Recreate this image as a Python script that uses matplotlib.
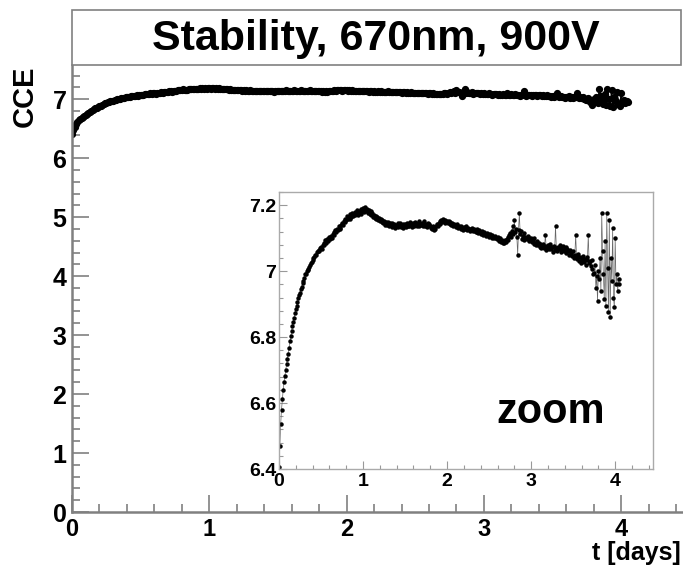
import matplotlib
matplotlib.use("Agg")
import matplotlib.pyplot as plt
from matplotlib.patches import Rectangle
from matplotlib.ticker import MultipleLocator

plt.rcParams["font.family"] = ["Liberation Sans", "DejaVu Sans"]
plt.rcParams["font.weight"] = "bold"

t_days = [
    0.00, 0.01, 0.02, 0.03, 0.04, 0.05, 0.06, 0.07, 0.08, 0.09,
    0.10, 0.11, 0.12, 0.13, 0.14, 0.15, 0.16, 0.17, 0.18, 0.19,
    0.20, 0.21, 0.22, 0.23, 0.24, 0.25, 0.26, 0.27, 0.28, 0.29,
    0.30, 0.31, 0.32, 0.33, 0.34, 0.35, 0.36, 0.37, 0.38, 0.39,
    0.40, 0.41, 0.42, 0.43, 0.44, 0.45, 0.46, 0.47, 0.48, 0.49,
    0.50, 0.51, 0.52, 0.53, 0.54, 0.55, 0.56, 0.57, 0.58, 0.59,
    0.60, 0.61, 0.62, 0.63, 0.64, 0.65, 0.66, 0.67, 0.68, 0.69,
    0.70, 0.71, 0.72, 0.73, 0.74, 0.75, 0.76, 0.77, 0.78, 0.79,
    0.80, 0.81, 0.82, 0.83, 0.84, 0.85, 0.86, 0.87, 0.88, 0.89,
    0.90, 0.91, 0.92, 0.93, 0.94, 0.95, 0.96, 0.97, 0.98, 0.99,
    1.00, 1.01, 1.02, 1.03, 1.04, 1.05, 1.06, 1.07, 1.08, 1.09,
    1.10, 1.11, 1.12, 1.13, 1.14, 1.15, 1.16, 1.17, 1.18, 1.19,
    1.20, 1.21, 1.22, 1.23, 1.24, 1.25, 1.26, 1.27, 1.28, 1.29,
    1.30, 1.31, 1.32, 1.33, 1.34, 1.35, 1.36, 1.37, 1.38, 1.39,
    1.40, 1.41, 1.42, 1.43, 1.44, 1.45, 1.46, 1.47, 1.48, 1.49,
    1.50, 1.51, 1.52, 1.53, 1.54, 1.55, 1.56, 1.57, 1.58, 1.59,
    1.60, 1.61, 1.62, 1.63, 1.64, 1.65, 1.66, 1.67, 1.68, 1.69,
    1.70, 1.71, 1.72, 1.73, 1.74, 1.75, 1.76, 1.77, 1.78, 1.79,
    1.80, 1.81, 1.82, 1.83, 1.84, 1.85, 1.86, 1.87, 1.88, 1.89,
    1.90, 1.91, 1.92, 1.93, 1.94, 1.95, 1.96, 1.97, 1.98, 1.99,
    2.00, 2.01, 2.02, 2.03, 2.04, 2.05, 2.06, 2.07, 2.08, 2.09,
    2.10, 2.11, 2.12, 2.13, 2.14, 2.15, 2.16, 2.17, 2.18, 2.19,
    2.20, 2.21, 2.22, 2.23, 2.24, 2.25, 2.26, 2.27, 2.28, 2.29,
    2.30, 2.31, 2.32, 2.33, 2.34, 2.35, 2.36, 2.37, 2.38, 2.39,
    2.40, 2.41, 2.42, 2.43, 2.44, 2.45, 2.46, 2.47, 2.48, 2.49,
    2.50, 2.51, 2.52, 2.53, 2.54, 2.55, 2.56, 2.57, 2.58, 2.59,
    2.60, 2.61, 2.62, 2.63, 2.64, 2.65, 2.66, 2.67, 2.68, 2.69,
    2.70, 2.71, 2.72, 2.73, 2.74, 2.75, 2.76, 2.77, 2.78, 2.79,
    2.80, 2.81, 2.82, 2.83, 2.84, 2.85, 2.86, 2.87, 2.88, 2.89,
    2.90, 2.91, 2.92, 2.93, 2.94, 2.95, 2.96, 2.97, 2.98, 2.99,
    3.00, 3.01, 3.02, 3.03, 3.04, 3.05, 3.06, 3.07, 3.08, 3.09,
    3.10, 3.11, 3.12, 3.13, 3.14, 3.15, 3.16, 3.17, 3.18, 3.19,
    3.20, 3.21, 3.22, 3.23, 3.24, 3.25, 3.26, 3.27, 3.28, 3.29,
    3.30, 3.31, 3.32, 3.33, 3.34, 3.35, 3.36, 3.37, 3.38, 3.39,
    3.40, 3.41, 3.42, 3.43, 3.44, 3.45, 3.46, 3.47, 3.48, 3.49,
    3.50, 3.51, 3.52, 3.53, 3.54, 3.55, 3.56, 3.57, 3.58, 3.59,
    3.60, 3.61, 3.62, 3.63, 3.64, 3.65, 3.66, 3.67, 3.68, 3.69,
    3.70, 3.71, 3.72, 3.73, 3.74,
    3.75, 3.76, 3.77, 3.78, 3.79, 3.80, 3.81, 3.82, 3.83, 3.84,
    3.85, 3.86, 3.87, 3.88, 3.89, 3.90, 3.91, 3.92, 3.93, 3.94,
    3.95, 3.96, 3.97, 3.98, 3.99, 4.00, 4.01, 4.02, 4.03, 4.04, 4.05,
]
cce = [
    6.405, 6.47, 6.535, 6.58, 6.612, 6.64, 6.663, 6.682, 6.70, 6.717,
    6.733, 6.75, 6.768, 6.787, 6.803, 6.82, 6.834, 6.846, 6.858, 6.872,
    6.884, 6.893, 6.905, 6.918, 6.928, 6.935, 6.947, 6.952, 6.963, 6.97,
    6.978, 6.99, 6.992, 6.999, 7.006, 7.002, 7.013, 7.02, 7.024, 7.029,
    7.033, 7.04, 7.043, 7.05, 7.048, 7.057, 7.06, 7.064, 7.061, 7.07,
    7.072, 7.068, 7.079, 7.086, 7.08, 7.093, 7.085, 7.097, 7.09, 7.099,
    7.103, 7.096, 7.108, 7.101, 7.113, 7.12, 7.109, 7.124, 7.118, 7.129,
    7.124, 7.136, 7.131, 7.128, 7.141, 7.146, 7.139, 7.153, 7.148, 7.158,
    7.155, 7.166, 7.159, 7.164, 7.158, 7.172, 7.165, 7.177, 7.168, 7.174,
    7.18, 7.169, 7.177, 7.185, 7.171, 7.182, 7.176, 7.188, 7.174, 7.183,
    7.19, 7.178, 7.196, 7.184, 7.181, 7.189, 7.175, 7.186, 7.172, 7.181,
    7.169, 7.176, 7.165, 7.171, 7.161, 7.168, 7.158, 7.164, 7.155, 7.16,
    7.152, 7.159, 7.148, 7.156, 7.146, 7.153, 7.141, 7.15, 7.144, 7.139,
    7.148, 7.137, 7.145, 7.14, 7.133, 7.146, 7.138, 7.143, 7.131, 7.14,
    7.136, 7.145, 7.134, 7.141, 7.147, 7.135, 7.139, 7.13, 7.144, 7.137,
    7.142, 7.133, 7.146, 7.138, 7.143, 7.136, 7.148, 7.139, 7.134, 7.145,
    7.14, 7.137, 7.149, 7.141, 7.136, 7.146, 7.138, 7.153, 7.142, 7.139,
    7.147, 7.136, 7.144, 7.151, 7.138, 7.142, 7.135, 7.146, 7.139, 7.143,
    7.137, 7.132, 7.129, 7.136, 7.125, 7.131, 7.128, 7.138, 7.142, 7.137,
    7.146, 7.151, 7.143, 7.155, 7.149, 7.158, 7.151, 7.147, 7.156, 7.15,
    7.153, 7.145, 7.151, 7.143, 7.148, 7.14, 7.146, 7.137, 7.144, 7.139,
    7.141, 7.135, 7.143, 7.131, 7.138, 7.133, 7.129, 7.137, 7.131, 7.126,
    7.134, 7.127, 7.13, 7.136, 7.124, 7.131, 7.127, 7.122, 7.129, 7.125,
    7.132, 7.121, 7.128, 7.123, 7.119, 7.127, 7.12, 7.116, 7.124, 7.118,
    7.113, 7.121, 7.115, 7.11, 7.118, 7.112, 7.107, 7.116, 7.109, 7.113,
    7.105, 7.112, 7.108, 7.102, 7.11, 7.104, 7.099, 7.107, 7.1, 7.096,
    7.103, 7.097, 7.092, 7.099, 7.088, 7.094, 7.084, 7.09, 7.086, 7.093,
    7.089, 7.097, 7.103, 7.095, 7.109, 7.117, 7.104, 7.122, 7.138, 7.112,
    7.155, 7.118, 7.128, 7.104, 7.049, 7.126, 7.175, 7.112, 7.121, 7.098,
    7.107, 7.115, 7.093, 7.104, 7.1, 7.097, 7.108, 7.09, 7.102, 7.095,
    7.099, 7.087, 7.094, 7.082, 7.099, 7.086, 7.078, 7.092, 7.08, 7.085,
    7.073, 7.081, 7.069, 7.078, 7.083, 7.07, 7.077, 7.111, 7.065, 7.074,
    7.08, 7.066, 7.075, 7.083, 7.068, 7.072, 7.058, 7.077, 7.064, 7.137,
    7.07, 7.061, 7.074, 7.066, 7.079, 7.058, 7.069, 7.063, 7.076, 7.062,
    7.066, 7.072, 7.055, 7.068, 7.06, 7.048, 7.063, 7.052, 7.057, 7.045,
    7.061, 7.04, 7.05, 7.111, 7.046, 7.038, 7.052, 7.03, 7.044, 7.026,
    7.041, 7.033, 7.046, 7.028, 7.037, 7.02, 7.035, 7.042, 7.109, 7.025,
    7.031, 7.016, 7.034, 7.005, 6.99,
    6.995, 7.02, 6.95, 6.985, 6.91, 7.0, 6.975, 7.04, 6.94, 7.175,
    7.06, 6.99, 6.917, 7.09, 6.895, 7.175, 7.01, 6.877, 7.155, 6.86,
    7.04, 6.97, 7.13, 6.92, 6.89, 7.1, 6.96, 6.99, 6.94, 6.975, 6.96,
]

title = "Stability, 670nm, 900V"
grey = "#808080"

fig = plt.figure(figsize=(6.83, 5.66), dpi=100)

# main frame
ax = fig.add_axes([72 / 683, 1 - 512 / 566, 1 - 72 / 683, (512 - 65) / 566])
ax.plot(t_days, cce, color="black", lw=1.0, marker="o", ms=4.2, mec="black", mfc="black")
ax.set_xlim(0, 4.45)
ax.set_ylim(0, 7.58)
ax.xaxis.set_major_locator(MultipleLocator(1))
ax.xaxis.set_minor_locator(MultipleLocator(0.2))
ax.yaxis.set_major_locator(MultipleLocator(1))
ax.yaxis.set_minor_locator(MultipleLocator(0.2))
ax.tick_params(which="both", direction="in", color=grey, width=1.2, labelsize=18,
               top=False, right=False)
ax.tick_params(which="major", length=12)
ax.tick_params(which="minor", length=6)
ax.tick_params(axis="x", pad=4, labelsize=17)
ax.tick_params(axis="y", pad=4)
ax.spines["top"].set_visible(False)
ax.spines["right"].set_visible(False)
for s in ["left", "bottom"]:
    ax.spines[s].set_color(grey)
    ax.spines[s].set_linewidth(1.8)
for lab in ax.get_xticklabels() + ax.get_yticklabels():
    lab.set_fontweight("bold")

fig.text(25 / 683, 1 - 96 / 566, "CCE", rotation=90, fontsize=21, fontweight="bold",
         ha="center", va="center")
fig.text(0.997, 1 - 565 / 566, "t [days]", fontsize=18, fontweight="bold",
         ha="right", va="bottom")

# title box
fig.patches.append(Rectangle((72 / 683, 1 - 65 / 566), (681 - 72) / 683, (65 - 10) / 566,
                             transform=fig.transFigure, facecolor="white",
                             edgecolor=grey, lw=1.2))
fig.text(376 / 683, 1 - 39 / 566, title, fontsize=31, fontweight="bold",
         ha="center", va="center")

# zoomed inset
ins = fig.add_axes([279 / 683, 1 - 469 / 566, (653 - 279) / 683, (469 - 192) / 566])
ins.plot(t_days, cce, color="#666666", lw=0.5, marker="o", ms=2.2,
         mec="black", mfc="black")
ins.set_xlim(0, 4.45)
ins.set_ylim(6.4, 7.24)
ins.xaxis.set_major_locator(MultipleLocator(1))
ins.xaxis.set_minor_locator(MultipleLocator(0.2))
ins.yaxis.set_minor_locator(MultipleLocator(0.04))
ins.set_yticks([6.4, 6.6, 6.8, 7.0, 7.2])
ins.set_yticklabels(["6.4", "6.6", "6.8", "7", "7.2"])
ins.tick_params(which="both", direction="in", color="#999999", width=0.8, labelsize=14)
ins.tick_params(which="major", length=6)
ins.tick_params(which="minor", length=3)
ins.tick_params(axis="x", pad=3)
ins.tick_params(axis="y", pad=2)
for s in ins.spines.values():
    s.set_color("#aaaaaa")
    s.set_linewidth(1.0)
for lab in ins.get_xticklabels() + ins.get_yticklabels():
    lab.set_fontweight("bold")
ins.text(551 / 683, 1 - 412 / 566, "zoom", transform=fig.transFigure, fontsize=30,
         fontweight="bold", ha="center", va="center")

fig.savefig("out.png", dpi=100)
